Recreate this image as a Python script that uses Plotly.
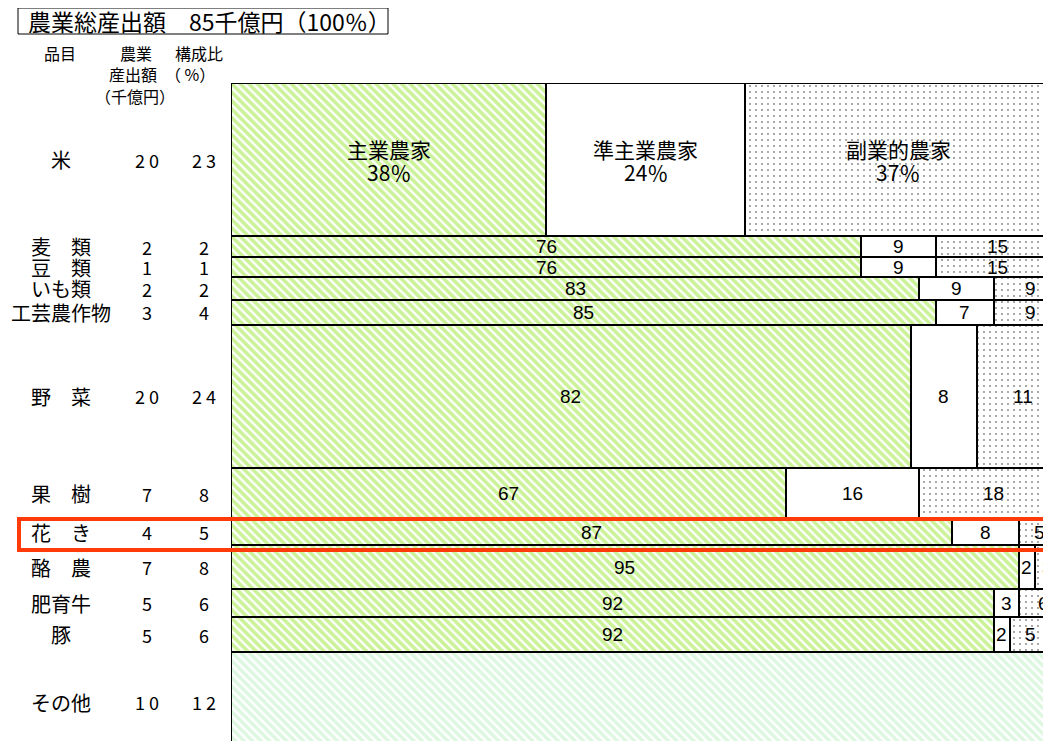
import plotly.graph_objects as go

# 品目ごとの農業産出額と構成比
items = ["米", "麦　類", "豆　類", "いも類", "工芸農作物", "野　菜", "果　樹",
         "花　き", "酪　農", "肥育牛", "豚", "その他"]
output_value = [20, 2, 1, 2, 3, 20, 7, 4, 7, 5, 5, 10]   # 千億円
share = [23, 2, 1, 2, 4, 24, 8, 5, 8, 6, 6, 12]          # %
# drawn thickness of each band
band_height = [153, 21, 20, 23, 24.5, 143.5, 51, 26, 44, 28, 35, 100]

# 農家類型別の割合 (%), その他 has no breakdown
main_farm = [38, 76, 76, 83, 85, 82, 67, 87, 95, 92, 92]
semi_farm = [24, 9, 9, 9, 7, 8, 16, 8, 2, 3, 2]
side_farm = [37, 15, 15, 9, 9, 11, 18, 5, 3, 6, 5]
farm_types = ["主業農家", "準主業農家", "副業的農家"]

OFF = 8                  # page body margin
W, H = 1051 - OFF, 741 - OFF
L, T = 231 - OFF, 83 - OFF
PX_PER_PCT = 8.29
JP = "Noto Sans CJK JP"
NUM = "Liberation Sans, Arial"


def px_x(p):
    return (p - OFF - L) / (W - L)


def px_y(p):
    return (H - (p - OFF)) / (H - T)


tops = []
acc = 0
for h in band_height:
    tops.append(acc)
    acc += h
centers = [t + h / 2 for t, h in zip(tops, band_height)]

n = len(main_farm)
base_semi = main_farm
base_side = [a + b for a, b in zip(main_farm, semi_farm)]

green = dict(shape="\\", fgcolor="#99e633", bgcolor="white", size=6, solidity=0.62)
dots = dict(shape=".", fgcolor="black", bgcolor="white", size=6, solidity=0.07)
pale = dict(shape="\\", fgcolor="#bdf0c4", bgcolor="white", size=6, solidity=0.6)
edge = dict(color="black", width=2)

fig = go.Figure()
fig.add_bar(y=centers[:n], x=main_farm, base=[0] * n, width=band_height[:n],
            orientation="h", name=farm_types[0],
            marker=dict(color="#99e633", pattern=green, line=edge))
fig.add_bar(y=centers[:n], x=semi_farm, base=base_semi, width=band_height[:n],
            orientation="h", name=farm_types[1],
            marker=dict(color="white", line=edge))
fig.add_bar(y=centers[:n], x=side_farm, base=base_side, width=band_height[:n],
            orientation="h", name=farm_types[2],
            marker=dict(color="black", pattern=dots, line=edge))
fig.add_bar(y=[centers[n]], x=[100], base=[0], width=[band_height[n]],
            orientation="h", name=items[n],
            marker=dict(color="#bdf0c4", pattern=pale, line=edge))

ann = []
# labels inside the bars
for i in range(n):
    segs = [(0, main_farm[i]), (base_semi[i], semi_farm[i]), (base_side[i], side_farm[i])]
    for k, (b, v) in enumerate(segs):
        if i == 0:
            big = dict(family=JP, size=21, color="black")
            ann.append(dict(x=b + v / 2, y=centers[i], xref="x", yref="y",
                            text=farm_types[k], showarrow=False, font=big,
                            xanchor="center", yanchor="middle", yshift=11))
            ann.append(dict(x=b + v / 2, y=centers[i], xref="x", yref="y",
                            text=f"{v}％", showarrow=False, font=big,
                            xanchor="center", yanchor="middle", yshift=-12))
        else:
            ann.append(dict(x=b + v / 2, y=centers[i], xref="x", yref="y",
                            text=str(v), showarrow=False,
                            font=dict(family=NUM, size=19, color="black"),
                            xanchor="center", yanchor="middle"))

# left-hand table
for i, name in enumerate(items):
    ann.append(dict(x=px_x(61), y=centers[i], xref="paper", yref="y", text=name,
                    showarrow=False, font=dict(family=JP, size=20, color="black"),
                    xanchor="center", yanchor="middle"))
    ann.append(dict(x=px_x(147), y=centers[i], xref="paper", yref="y",
                    text=" ".join(str(output_value[i])), showarrow=False,
                    font=dict(family=JP, size=18, color="black"),
                    xanchor="center", yanchor="middle"))
    ann.append(dict(x=px_x(204), y=centers[i], xref="paper", yref="y",
                    text=" ".join(str(share[i])), showarrow=False,
                    font=dict(family=JP, size=18, color="black"),
                    xanchor="center", yanchor="middle"))

# column headers
hdr = dict(family=JP, size=16, color="black")
heads = [
    (60, 53, "品目"), (136, 53, "農業"), (199, 53, "構成比"),
    (133, 74, "産出額"), (190, 74, "（ %）"), (135, 96, "（千億円）"),
]
for hx, hy, ht in heads:
    ann.append(dict(x=px_x(hx), y=px_y(hy), xref="paper", yref="paper", text=ht,
                    showarrow=False, font=hdr, xanchor="center", yanchor="middle"))

# title box
ann.append(dict(x=px_x(26), y=px_y(21), xref="paper", yref="paper",
                text="農業総産出額　85千億円（100％）", showarrow=False,
                font=dict(family=JP, size=23, color="black"),
                xanchor="left", yanchor="middle"))

hl = items.index("花　き")
shapes = [
    dict(type="rect", xref="paper", yref="paper", x0=px_x(18), x1=px_x(388),
         y0=px_y(8), y1=px_y(34), line=dict(color="black", width=1)),
    dict(type="rect", xref="paper", yref="y", x0=px_x(19), x1=1.05,
         y0=tops[hl], y1=tops[hl] + band_height[hl] + 5,
         line=dict(color="#ff3b0a", width=4), layer="above"),
]

fig.update_layout(
    width=W, height=H,
    margin=dict(l=L, r=0, t=T, b=0),
    paper_bgcolor="white", plot_bgcolor="white",
    barmode="overlay", bargap=0, showlegend=False,
    xaxis=dict(range=[0, (W - L) / PX_PER_PCT], visible=False, fixedrange=True),
    yaxis=dict(range=[H - T, 0], visible=False, fixedrange=True),
    annotations=ann, shapes=shapes,
)

fig.write_html("out.html")
